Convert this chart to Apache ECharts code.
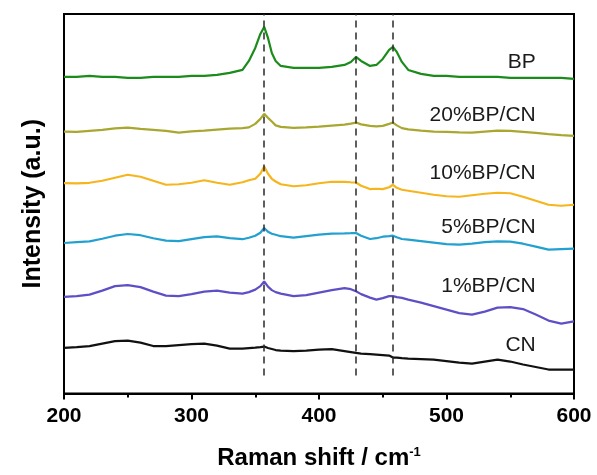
<!DOCTYPE html>
<html>
<head>
<meta charset="utf-8">
<script src="https://cdn.jsdelivr.net/npm/echarts@6/dist/echarts.min.js"></script>
<style>
  html, body { margin: 0; padding: 0; background: #fff; }
  #chart { width: 597px; height: 475px; }
</style>
</head>
<body>
<div id="chart"></div>
<script>
// Raman shift sampling grid (cm^-1)
const ramanShift = [200,210,220,230,240,250,260,270,280,290,300,310,320,330,340,345,350,354,357,360,363,366,370,380,390,400,410,420,425,429,433,440,445,450,455,458,461,465,470,480,490,500,510,520,530,540,550,560,570,580,590,600];

// Offset intensities (a.u.), one array per sample
const intensityBP = [317,317,318,317,317,316,316,317,317,317,318,318,319,321,324,333,346,360,367,356,341,333,328,326,326,326,327,329,332,337,333,328,329,335,344,347,342,332,324,320,318,318,317,317,317,317,316,316,316,316,316,315];
const intensity20 = [262.3,262,263,264,265.5,266.3,265,264,263,261.3,262.5,263.3,264.3,265.3,265.7,266.5,270,275,280,276,272.3,268.5,267,266,266.5,267.3,268.3,269.3,270.3,271.3,269.5,268,267.5,268,270,271.3,268.5,265.7,264.5,263.3,262.3,262,261.5,261.3,262.3,263.3,263,262,261,259.7,258.8,258];
const intensity10 = [210.7,210.5,211,213,216,219,217,213,209,209.5,211,213.5,211,209,211.5,213.5,215,220,227.3,220,215,212.3,209.5,207.5,208.5,210.5,212,212,211.5,211.3,208,204.7,205,204.7,206.5,209,206,204,203,201,199,197.5,197,198.5,200,201,200.5,197,193,189,188,189];
const intensity5 = [150.7,151.5,152.3,155,158,159.7,158.5,155.5,153,152.5,154.5,156.5,157.3,155.5,154.5,156,158,161,165.7,162,160,159,157.5,156,157.5,159,160,160.3,160.5,160.7,158,154.7,155.5,157,157.5,158,156.5,154.7,154,152.5,151,149.5,149,150,151.5,152.3,152,150,147,144,144.5,145];
const intensity1 = [96.7,97.5,99,103,107.5,108.5,106.5,102,98,97.5,99.5,102,103,101,100,101.5,104,107.5,112.3,107,103.5,101.5,100,97.5,98.5,101,103.5,105.5,104.5,102.3,99.5,96,94,95.5,97.5,97.5,96.5,95.7,94,91,87.5,84,80.5,79,82,86,86.5,84.5,79,73,70,72.3];
const intensityCN = [45.7,46.5,47.5,50,52.5,53,51,47.5,47.5,48.5,49.5,50,48,45,45,45.5,46,46.5,47,45.5,44.5,43.5,43,42.5,43,44,44.5,42.5,41.5,40.7,40,39.5,39,38.5,38,36,36,35.5,35,34.5,34,32.5,31,30,32,34,32,29,26.5,24,24,24];

// Sample names and the level where each name sits
const sampleNames = ['BP','20%BP/CN','10%BP/CN','5%BP/CN','1%BP/CN','CN'];
const nameLevels = [332,279,221,167,107,48];

// Characteristic peak positions (cm^-1)
const peakPositions = [357,429,458];

const seriesValues = [intensityBP,intensity20,intensity10,intensity5,intensity1,intensityCN];
const seriesColors = ['#1b8c1b','#a9a730','#f6b51c','#22a0cf','#5e4fc6','#111111'];

const FONT = 'Liberation Sans, Arial, sans-serif';

const series = seriesValues.map((vals, i) => ({
  name: sampleNames[i],
  type: 'line',
  data: ramanShift.map((x, k) => [x, vals[k]]),
  showSymbol: false,
  symbol: 'none',
  lineStyle: { color: seriesColors[i], width: 2.2 },
  itemStyle: { color: seriesColors[i] },
  z: 3,
  markPoint: {
    symbol: 'circle',
    symbolSize: 0,
    silent: true,
    label: {
      show: true,
      position: 'left',
      distance: 0,
      formatter: sampleNames[i],
      color: '#1a1a1a',
      fontSize: 21,
      fontFamily: FONT
    },
    data: [{ coord: [570, nameLevels[i]] }]
  }
}));

// dashed guides through the peak positions
series.push({
  type: 'line',
  data: [],
  markLine: {
    silent: true,
    symbol: 'none',
    label: { show: false },
    lineStyle: { color: '#2a2a2a', width: 1.5, type: [7, 5] },
    data: peakPositions.map(p => [{ coord: [p, 18] }, { coord: [p, 380] }])
  }
});

const chart = echarts.init(document.getElementById('chart'));
chart.setOption({
  animation: false,
  backgroundColor: '#fff',
  grid: {
    left: 64, right: 23, top: 14, bottom: 81,
    show: true, borderColor: '#000', borderWidth: 2, backgroundColor: 'transparent'
  },
  xAxis: {
    type: 'value',
    min: 200, max: 600, interval: 100,
    name: 'Raman shift / cm{sup|-1}',
    nameLocation: 'middle',
    nameGap: 52,
    nameTextStyle: {
      fontSize: 24, fontWeight: 'bold', color: '#000', fontFamily: FONT,
      rich: { sup: { fontSize: 13, fontWeight: 'bold', verticalAlign: 'top', padding: [0, 0, 12, 0], fontFamily: FONT } }
    },
    axisLine: { lineStyle: { color: '#000', width: 2 } },
    axisTick: { show: true, inside: false, length: 6, lineStyle: { width: 2, color: '#000' } },
    minorTick: { show: true, splitNumber: 2, length: 4, lineStyle: { width: 2, color: '#000' } },
    axisLabel: { fontSize: 21, fontWeight: 'bold', color: '#000', fontFamily: FONT, margin: 12 },
    splitLine: { show: false }
  },
  yAxis: {
    type: 'value',
    min: 0, max: 380,
    name: 'Intensity (a.u.)',
    nameLocation: 'middle',
    nameGap: 18,
    nameTextStyle: { fontSize: 25, fontWeight: 'bold', color: '#000', fontFamily: FONT },
    axisLine: { show: true, lineStyle: { color: '#000', width: 2 } },
    axisTick: { show: false },
    axisLabel: { show: false },
    splitLine: { show: false }
  },
  series: series
});
</script>
</body>
</html>
